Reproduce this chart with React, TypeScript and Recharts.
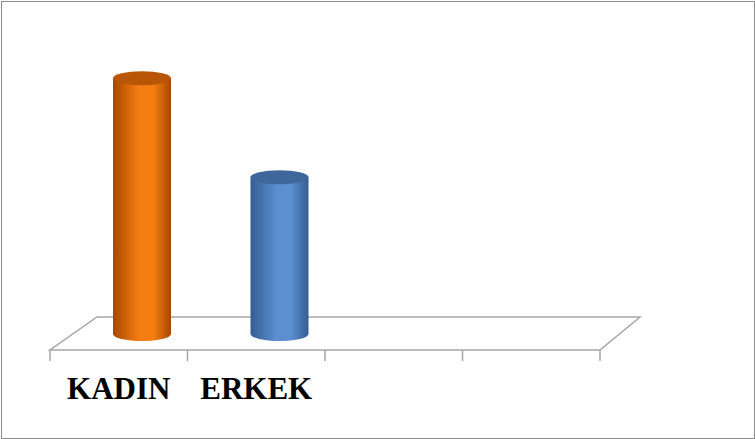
import React from 'react';
import { BarChart, Bar, XAxis, YAxis, Cell } from 'recharts';

const categories = ['KADIN', 'ERKEK', '', ''];
const values = [62, 38, null, null];
const barColors = [
  { edge: '#a64800', mid: '#f57d12', top: '#b85605' },
  { edge: '#355d91', mid: '#5b8fd0', top: '#3e689b' },
];

const W = 755;
const H = 439;
const margin = { top: 20, right: 155, left: 50, bottom: 29 };
const axisHeight = 60;
const plotLeft = margin.left;
const plotRight = W - margin.right;
const axisY = H - margin.bottom - axisHeight;
const band = (plotRight - plotLeft) / categories.length;
// depth of the 3D floor
const depthLeft = 47;
const depthRight = 40;
const depthY = 33;
const barShiftX = 23;
const barShiftY = -16;

const data = categories.map((name, i) => ({ name, value: values[i] }));

function Cylinder(props: any) {
  const { x, y, width, height, index } = props;
  if (!height || height <= 0) return null;
  const c = barColors[index % barColors.length];
  const left = x + barShiftX;
  const top = y + barShiftY;
  const base = top + height;
  const rx = width / 2;
  const ry = 7;
  const cx = left + rx;
  const gid = `cyl-${index}`;
  return (
    <g>
      <defs>
        <linearGradient id={gid} x1="0" y1="0" x2="1" y2="0">
          <stop offset="0%" stopColor={c.edge} />
          <stop offset="45%" stopColor={c.mid} />
          <stop offset="70%" stopColor={c.mid} />
          <stop offset="100%" stopColor={c.edge} />
        </linearGradient>
      </defs>
      <path
        d={`M${left},${top} L${left},${base} A${rx},${ry} 0 0 0 ${left + width},${base} L${left + width},${top} Z`}
        fill={`url(#${gid})`}
      />
      <ellipse cx={cx} cy={top} rx={rx} ry={ry} fill={c.top} />
    </g>
  );
}

function CategoryTick(props: any) {
  const { x, y, payload, index } = props;
  const isLast = index === categories.length - 1;
  return (
    <g>
      <line x1={x - band / 2} y1={axisY} x2={x - band / 2} y2={axisY + 11} stroke="#a6a6a6" strokeWidth={1.5} />
      {isLast && (
        <line x1={x + band / 2} y1={axisY} x2={x + band / 2} y2={axisY + 11} stroke="#a6a6a6" strokeWidth={1.5} />
      )}
      <text
        x={x}
        y={y + 41}
        textAnchor="middle"
        fontFamily="'Liberation Serif', 'Times New Roman', serif"
        fontWeight={700}
        fontSize={31}
        fill="#000"
      >
        {payload.value}
      </text>
    </g>
  );
}

export default function App() {
  const floor = [
    [plotLeft, axisY],
    [plotRight, axisY],
    [plotRight + depthRight, axisY - depthY],
    [plotLeft + depthLeft, axisY - depthY],
  ]
    .map((p) => p.join(','))
    .join(' ');

  return (
    <div style={{ position: 'fixed', left: 0, top: 0, width: W, height: H, background: '#fff' }}>
      <svg width={W} height={H} style={{ position: 'absolute', left: 0, top: 0 }}>
        <polygon points={floor} fill="#fff" stroke="#a6a6a6" strokeWidth={1.5} />
      </svg>
      <div style={{ position: 'absolute', left: 0, top: 0 }}>
        <BarChart width={W} height={H} data={data} margin={margin} barSize={58}>
          <XAxis
            dataKey="name"
            height={axisHeight}
            axisLine={false}
            tickLine={false}
            tick={<CategoryTick />}
            interval={0}
          />
          <YAxis hide domain={[0, 80]} />
          <Bar dataKey="value" shape={<Cylinder />} isAnimationActive={false}>
            {data.map((d, i) => (
              <Cell key={i} fill={barColors[i % barColors.length].mid} />
            ))}
          </Bar>
        </BarChart>
      </div>
      <div
        style={{
          position: 'absolute',
          left: 1,
          top: 1,
          width: W - 3,
          height: H - 3,
          border: '1px solid #8c8c8c',
          pointerEvents: 'none',
        }}
      />
    </div>
  );
}
